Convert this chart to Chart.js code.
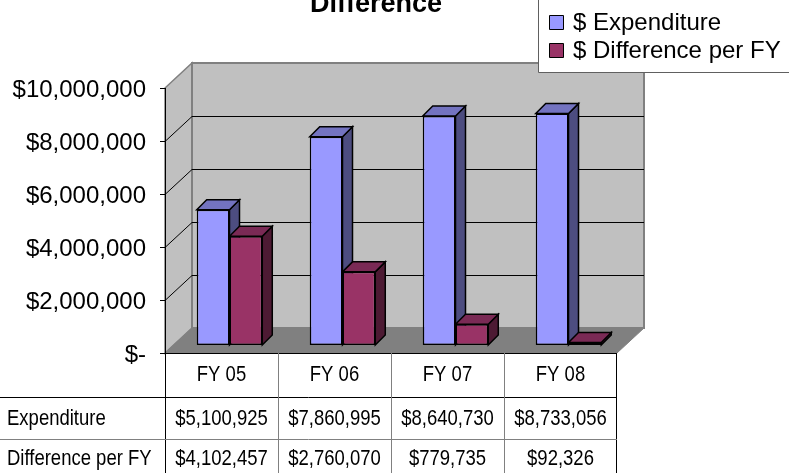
<!DOCTYPE html>
<html>
<head>
<meta charset="utf-8">
<script src="https://cdn.jsdelivr.net/npm/chart.js@4.4.1/dist/chart.umd.min.js"></script>
<style>
  html, body { margin: 0; padding: 0; background: #fff; }
</style>
</head>
<body>
<canvas id="chart" width="789" height="473"></canvas>
<script>
const categories = ["FY 05", "FY 06", "FY 07", "FY 08"];
const expenditure = [5100925, 7860995, 8640730, 8733056];
const differencePerFY = [4102457, 2760070, 779735, 92326];
const seriesNames = ["$ Expenditure", "$ Difference per FY"];
const tableRowNames = ["Expenditure", "Difference per FY"];
const yTicks = [0, 2000000, 4000000, 6000000, 8000000, 10000000];
const titleText = "Difference";

const FONT = '"Liberation Sans", Arial, sans-serif';
const WALL_DX = 27, WALL_DY = -25; // depth of the 3d box
const BAR_SHIFT = 8;               // bars sit a little behind the front plane
const BAR_DEPTH = 10;
const sideColors = ["#4d4d80", "#4d1a33"];
const topColors = ["#7373c0", "#7a2a55"];

function money(v) {
  if (v === 0) return "$-";
  return "$" + v.toLocaleString("en-US");
}

function poly(ctx, pts, fill, stroke, lw) {
  ctx.beginPath();
  ctx.moveTo(pts[0][0], pts[0][1]);
  for (let i = 1; i < pts.length; i++) ctx.lineTo(pts[i][0], pts[i][1]);
  ctx.closePath();
  if (fill) { ctx.fillStyle = fill; ctx.fill(); }
  if (stroke) { ctx.strokeStyle = stroke; ctx.lineWidth = lw || 1; ctx.stroke(); }
}

// text in the data table is drawn a bit taller than wide, like the original
function stretchedText(ctx, text, x, y, align) {
  ctx.save();
  ctx.translate(x, y);
  ctx.scale(1, 1.17);
  ctx.textAlign = align;
  ctx.textBaseline = "alphabetic";
  ctx.fillText(text, 0, 0);
  ctx.restore();
}

const scene3d = {
  id: "scene3d",
  beforeDatasetsDraw(chart) {
    const { ctx, chartArea: a, scales: { y } } = chart;
    const L = a.left, R = a.right, T = a.top, B = a.bottom;

    // walls + floor
    poly(ctx, [[L, T], [L + WALL_DX, T + WALL_DY], [L + WALL_DX, B + WALL_DY], [L, B]], "#c0c0c0", "#808080", 1.5);
    poly(ctx, [[L + WALL_DX, T + WALL_DY], [R + WALL_DX, T + WALL_DY], [R + WALL_DX, B + WALL_DY], [L + WALL_DX, B + WALL_DY]], "#c0c0c0", "#808080", 2);
    poly(ctx, [[L, B], [R, B], [R + WALL_DX, B + WALL_DY], [L + WALL_DX, B + WALL_DY]], "#808080", "#808080", 1);

    // gridlines
    ctx.strokeStyle = "#000";
    ctx.lineWidth = 1;
    yTicks.forEach(v => {
      if (v === 0 || v === yTicks[yTicks.length - 1]) return;
      const py = Math.round(y.getPixelForValue(v)) + 0.5;
      ctx.beginPath();
      ctx.moveTo(L, py);
      ctx.lineTo(L + WALL_DX, py + WALL_DY);
      ctx.lineTo(R + WALL_DX, py + WALL_DY);
      ctx.stroke();
    });

    // bar side and top faces, fronts are drawn by chart.js afterwards
    ctx.save();
    ctx.translate(BAR_SHIFT, -BAR_SHIFT);
    const d = BAR_DEPTH;
    categories.forEach((c, i) => {
      chart.data.datasets.forEach((ds, k) => {
        const el = chart.getDatasetMeta(k).data[i];
        const p = el.getProps(["x", "y", "base", "width"], true);
        const bl = p.x - p.width / 2, br = p.x + p.width / 2;
        poly(ctx, [[br, p.y], [br + d, p.y - d], [br + d, p.base - d], [br, p.base]], sideColors[k], "#000", 1.5);
        poly(ctx, [[bl, p.y], [bl + d, p.y - d], [br + d, p.y - d], [br, p.y]], topColors[k], "#000", 1.5);
      });
    });
    ctx.restore();

    ctx.save();
    ctx.translate(BAR_SHIFT, -BAR_SHIFT);
  },
  afterDatasetsDraw(chart) {
    const { ctx, chartArea: a, scales: { y } } = chart;
    ctx.restore();
    const L = a.left, R = a.right, B = a.bottom;
    const H = chart.height;

    // y axis and tick labels
    ctx.strokeStyle = "#000";
    ctx.lineWidth = 1;
    ctx.beginPath();
    ctx.moveTo(L + 0.5, a.top);
    ctx.lineTo(L + 0.5, H);
    ctx.moveTo(L - 5, B + 0.5);
    ctx.lineTo(R, B + 0.5);
    ctx.stroke();

    ctx.fillStyle = "#000";
    ctx.font = "24px " + FONT;
    ctx.textAlign = "right";
    ctx.textBaseline = "alphabetic";
    yTicks.forEach(v => {
      const py = Math.round(y.getPixelForValue(v)) + 0.5;
      ctx.beginPath();
      ctx.moveTo(L - 5, py);
      ctx.lineTo(L, py);
      ctx.stroke();
      ctx.fillText(money(v), 146, py + 8.6);
    });

    // data table
    const colW = (R - L) / categories.length;
    const rowTop = [B, B + 44, B + 86];
    ctx.lineWidth = 1;
    ctx.strokeStyle = "#000";
    ctx.beginPath();
    ctx.moveTo(0, rowTop[1] + 0.5); ctx.lineTo(R, rowTop[1] + 0.5);
    ctx.moveTo(R - 0.5, B); ctx.lineTo(R - 0.5, H);
    ctx.stroke();
    ctx.strokeStyle = "#808080";
    ctx.beginPath();
    ctx.moveTo(0, rowTop[2] + 0.5); ctx.lineTo(R, rowTop[2] + 0.5);
    for (let i = 1; i < categories.length; i++) {
      const x = Math.round(L + colW * i) + 0.5;
      ctx.moveTo(x, B); ctx.lineTo(x, H);
    }
    ctx.stroke();

    ctx.fillStyle = "#000";
    ctx.font = "18.5px " + FONT;
    const rows = [expenditure, differencePerFY];
    categories.forEach((c, i) => {
      const cx = L + colW * (i + 0.5);
      stretchedText(ctx, c, cx, B + 28, "center");
      rows.forEach((r, k) => stretchedText(ctx, money(r[i]), cx, rowTop[k + 1] + 28 - k * 2, "center"));
    });
    tableRowNames.forEach((n, k) => stretchedText(ctx, n, 7, rowTop[k + 1] + 28 - k * 2, "left"));

    // title (first line lies above the picture)
    ctx.font = "bold 27px " + FONT;
    ctx.textAlign = "center";
    ctx.fillText(titleText, 376, 12);

    // legend
    poly(ctx, [[538.5, -2], [800, -2], [800, 72.5], [538.5, 72.5]], "#fff", "#606060", 1);
    ctx.font = "24px " + FONT;
    ctx.textAlign = "left";
    chart.data.datasets.forEach((ds, k) => {
      const yy = 15 + k * 28;
      poly(ctx, [[549.5, yy + 0.5], [563.5, yy + 0.5], [563.5, yy + 14.5], [549.5, yy + 14.5]], ds.backgroundColor, "#000", 1);
      ctx.fillStyle = "#000";
      ctx.fillText(ds.label, 573, yy + 15);
    });
  }
};

new Chart(document.getElementById("chart"), {
  type: "bar",
  data: {
    labels: categories,
    datasets: [
      {
        label: seriesNames[0],
        data: expenditure,
        backgroundColor: "#9999ff",
        borderColor: "#000",
        borderWidth: 1.5,
        borderSkipped: false,
      },
      {
        label: seriesNames[1],
        data: differencePerFY,
        backgroundColor: "#993366",
        borderColor: "#000",
        borderWidth: 1.5,
        borderSkipped: false,
      },
    ],
  },
  options: {
    responsive: false,
    animation: false,
    layout: { padding: { left: 165, right: 172, top: 88, bottom: 120 } },
    datasets: { bar: { barPercentage: 1, categoryPercentage: 0.58, clip: false } },
    plugins: {
      legend: { display: false },
      title: { display: false },
      tooltip: { enabled: false },
    },
    scales: {
      x: { display: false },
      y: { display: false, min: 0, max: 10000000, ticks: { stepSize: 2000000 } },
    },
  },
  plugins: [scene3d],
});
</script>
</body>
</html>
